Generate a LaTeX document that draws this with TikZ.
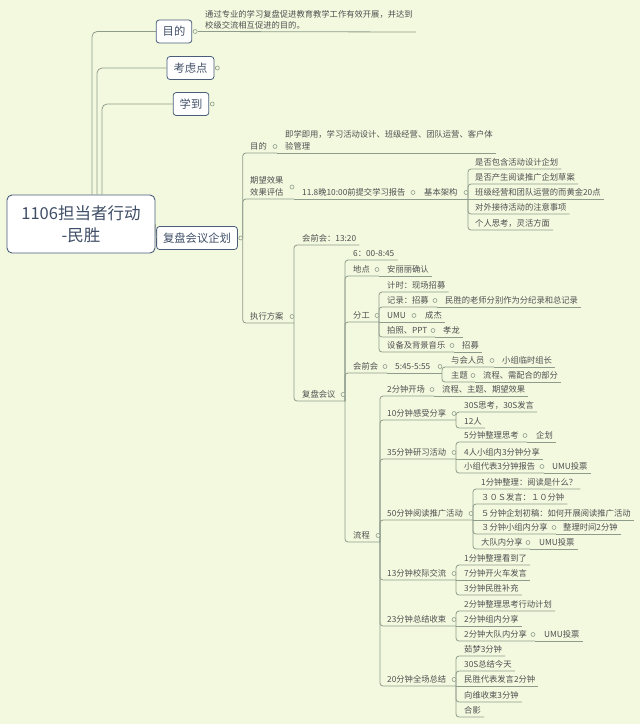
\documentclass[tikz,border=0pt]{standalone}
\usepackage{fontspec}
\setmainfont{Noto Sans CJK SC}
\usetikzlibrary{calc}
\definecolor{bg}{HTML}{F2F9DF}
\definecolor{lnc}{HTML}{8F9C8C}
\definecolor{txt}{HTML}{505050}
\definecolor{mtxt}{HTML}{3F4E66}
\definecolor{boxc}{HTML}{4A5D7A}
\definecolor{circc}{HTML}{8F9C8C}
\tikzset{
  ln/.style={draw=lnc, line width=0.8pt, rounded corners=3pt},
  tp/.style={font=\fontsize{8.3}{12}\selectfont, text=txt, inner xsep=3pt, inner ysep=2pt, text depth=1.5pt, anchor=south west, xshift=-3pt},
  tpm/.style={font=\fontsize{8.3}{12}\selectfont, text=txt, inner xsep=3pt, inner ysep=2.5pt, anchor=south west, xshift=-3pt, align=left},
  cl/.style={draw=circc, fill=bg, line width=0.6pt},
  mbox/.style={draw=boxc, fill=white, rounded corners=3pt, line width=0.8pt, font=\fontsize{11.3}{13}\selectfont, text=mtxt, inner xsep=6.5pt, inner ysep=0pt, minimum height=23pt},
  rootbox/.style={draw=boxc, fill=white, rounded corners=5pt, line width=0.9pt, font=\fontsize{16.5}{22}\selectfont, text=mtxt, align=center, minimum width=148pt, minimum height=58pt},
}
\newcommand\T[4]{\node[tp] (#1) at (#2,#3) {#4};}
\newcommand\C[1]{\draw[cl] ($(#1)+(-2,-6.5)$) circle (2pt);}
\begin{document}
\begin{tikzpicture}[x=1pt,y=-1pt]
\path[use as bounding box, fill=bg] (0,0) rectangle (640,724);
% root and main topics
\node[rootbox] (root) at (81,224) {1106担当者行动\\-民胜};
\node[mbox] (m1) at (174,31.5) {目的};
\node[mbox] (m2) at (190.5,68) {考虑点};
\node[mbox] (m3) at (191,104) {学到};
\node[mbox] (m4) at (197,238) {复盘会议企划};
\draw[ln, rounded corners=5pt] ([xshift=11pt]root.north) |- (m1.west);
\draw[ln, rounded corners=5pt] ([xshift=16pt]root.north) |- (m2.west);
\draw[ln, rounded corners=5pt] ([xshift=21pt]root.north) |- (m3.west);
\draw[ln] (root.east) -- (m4.west);
% 目的 child
\coordinate (m1j) at ([xshift=6pt]m1.east);
\node[tpm, font=\fontsize{8.3}{11}\selectfont] (t0) at (205,32) {通过专业的学习复盘促进教育教学工作有效开展，并达到\\校级交流相互促进的目的。};
\draw[ln] (m1j) -- (t0.south east);
% 复盘会议企划
\coordinate (j0) at ([xshift=5pt]m4.east);
\T{a1}{250}{153}{目的}
\coordinate (a1j) at (277,153);
\node[tpm] (a1c) at (285,153) {即学即用，学习活动设计、班级经营、团队运营、客户体\\验管理};
\draw[ln] (j0) |- (a1j);
\draw[ln] (a1j) -- (a1c.south east);
\node[tpm] (a2) at (250,199) {期望效果\\效果评估};
\coordinate (a2j) at (294,199);
\T{a2c}{302}{199}{11.8晚10:00前提交学习报告}
\coordinate (a2cj) at (415,199);
\T{a2d}{424}{199}{基本架构}
\coordinate (a2dj) at (468,199);
\draw[ln] (j0) |- (a2j);
\draw[ln] (a2j) -- (a2cj);
\draw[ln] (a2cj) -- (a2dj);
\T{e1}{475}{169}{是否包含活动设计企划}
\T{e2}{475}{184}{是否产生阅读推广企划草案}
\T{e3}{475}{199}{班级经营和团队运营的而黄金20点}
\T{e4}{475}{214}{对外接待活动的注意事项}
\T{e5}{475}{230}{个人思考，灵活方面}
\draw[ln] (a2dj) |- (e1.south east);
\draw[ln] (a2dj) |- (e2.south east);
\draw[ln] (a2dj) -- (e3.south east);
\draw[ln] (a2dj) |- (e4.south east);
\draw[ln] (a2dj) |- (e5.south east);
% 执行方案
\T{a3}{250}{323}{执行方案}
\coordinate (a3j) at (294,323);
\draw[ln] (j0) |- (a3j);
\T{b1}{302}{245}{会前会：13:20}
\draw[ln] (a3j) |- (b1.south east);
\T{b2}{302}{401}{复盘会议}
\coordinate (b2j) at (345,401);
\draw[ln] (a3j) |- (b2j);
% 复盘会议 children
\T{c1}{353}{260}{6：00-8:45}
\draw[ln] (b2j) |- (c1.south east);
\T{c2}{353}{276}{地点}
\coordinate (c2j) at (379,276);
\T{c2c}{387}{276}{安丽丽确认}
\draw[ln] (b2j) |- (c2j);
\draw[ln] (c2j) -- (c2c.south east);
\T{c3}{353}{322}{分工}
\coordinate (c3j) at (379,322);
\draw[ln] (b2j) |- (c3j);
\T{f1}{387}{292}{计时：现场招募}
\draw[ln] (c3j) |- (f1.south east);
\T{f2}{387}{307}{记录：招募}
\coordinate (f2j) at (437,307);
\T{f2c}{445}{307}{民胜的老师分别作为分纪录和总记录}
\draw[ln] (c3j) |- (f2j);
\draw[ln] (f2j) -- (f2c.south east);
\T{f3}{387}{322}{UMU}
\coordinate (f3j) at (416,322);
\T{f3c}{425}{322}{成杰}
\draw[ln] (c3j) -- (f3j);
\draw[ln] (f3j) -- (f3c.south east);
\T{f4}{387}{337}{拍照、PPT}
\coordinate (f4j) at (435,337);
\T{f4c}{443}{337}{孝龙}
\draw[ln] (c3j) |- (f4j);
\draw[ln] (f4j) -- (f4c.south east);
\T{f5}{387}{352}{设备及背景音乐}
\coordinate (f5j) at (454,352);
\T{f5c}{462}{352}{招募}
\draw[ln] (c3j) |- (f5j);
\draw[ln] (f5j) -- (f5c.south east);
\T{c4}{353}{373}{会前会}
\coordinate (c4j) at (387,373);
\T{c4c}{395}{373}{5:45-5:55}
\coordinate (c4cj) at (442,373);
\draw[ln] (b2j) |- (c4j);
\draw[ln] (c4j) -- (c4cj);
\T{g1}{451}{367}{与会人员}
\coordinate (g1j) at (494,367);
\T{g1c}{502}{367}{小组临时组长}
\draw[ln] (c4cj) |- (g1j);
\draw[ln] (g1j) -- (g1c.south east);
\T{g2}{451}{382}{主题}
\coordinate (g2j) at (475,382);
\T{g2c}{483}{382}{流程、需配合的部分}
\draw[ln] (c4cj) |- (g2j);
\draw[ln] (g2j) -- (g2c.south east);
\T{c5}{353}{542}{流程}
\coordinate (c5j) at (380,542);
\draw[ln] (b2j) |- (c5j);
% 流程 children
\T{d1}{387}{396}{2分钟开场}
\coordinate (d1j) at (434,396);
\T{d1c}{442}{396}{流程、主题、期望效果}
\draw[ln] (c5j) |- (d1j);
\draw[ln] (d1j) -- (d1c.south east);
\T{d2}{387}{420}{10分钟感受分享}
\coordinate (d2j) at (456,420);
\draw[ln] (c5j) |- (d2j);
\T{h1}{464}{412}{30S思考，30S发言}
\T{h2}{464}{428}{12人}
\draw[ln] (d2j) |- (h1.south east);
\draw[ln] (d2j) |- (h2.south east);
\T{d3}{387}{459}{35分钟研习活动}
\coordinate (d3j) at (456,459);
\draw[ln] (c5j) |- (d3j);
\T{i1}{464}{442}{5分钟整理思考}
\coordinate (i1j) at (527,442);
\T{i1c}{536}{442}{企划}
\draw[ln] (d3j) |- (i1j);
\draw[ln] (i1j) -- (i1c.south east);
\T{i2}{464}{459}{4人小组内3分钟分享}
\draw[ln] (d3j) -- (i2.south east);
\T{i3}{464}{473}{小组代表3分钟报告}
\coordinate (i3j) at (544,473);
\T{i3c}{552}{473}{UMU投票}
\draw[ln] (d3j) |- (i3j);
\draw[ln] (i3j) -- (i3c.south east);
\T{d4}{387}{520}{50分钟阅读推广活动}
\coordinate (d4j) at (473,520);
\draw[ln] (c5j) |- (d4j);
\T{k1}{481}{489}{1分钟整理：阅读是什么？}
\T{k2}{481}{504}{３０Ｓ发言：１０分钟}
\T{k3}{481}{520}{５分钟企划初稿：如何开展阅读推广活动}
\T{k4}{481}{534}{３分钟小组内分享}
\coordinate (k4j) at (556,534);
\T{k4c}{563}{534}{整理时间2分钟}
\T{k5}{481}{549}{大队内分享}
\coordinate (k5j) at (530,549);
\T{k5c}{539}{549}{UMU投票}
\draw[ln] (d4j) |- (k1.south east);
\draw[ln] (d4j) |- (k2.south east);
\draw[ln] (d4j) -- (k3.south east);
\draw[ln] (d4j) |- (k4j);
\draw[ln] (k4j) -- (k4c.south east);
\draw[ln] (d4j) |- (k5j);
\draw[ln] (k5j) -- (k5c.south east);
\T{d5}{387}{580}{13分钟校际交流}
\coordinate (d5j) at (456,580);
\draw[ln] (c5j) |- (d5j);
\T{l1}{464}{565}{1分钟整理看到了}
\T{l2}{464}{580}{7分钟开火车发言}
\T{l3}{464}{595}{3分钟民胜补充}
\draw[ln] (d5j) |- (l1.south east);
\draw[ln] (d5j) -- (l2.south east);
\draw[ln] (d5j) |- (l3.south east);
\T{d6}{387}{626}{23分钟总结收束}
\coordinate (d6j) at (456,626);
\draw[ln] (c5j) |- (d6j);
\T{n1}{464}{611}{2分钟整理思考行动计划}
\T{n2}{464}{626}{2分钟组内分享}
\T{n3}{464}{641}{2分钟大队内分享}
\coordinate (n3j) at (535,641);
\T{n3c}{544}{641}{UMU投票}
\draw[ln] (d6j) |- (n1.south east);
\draw[ln] (d6j) -- (n2.south east);
\draw[ln] (d6j) |- (n3j);
\draw[ln] (n3j) -- (n3c.south east);
\T{d7}{387}{686}{20分钟全场总结}
\coordinate (d7j) at (456,686);
\draw[ln] (c5j) |- (d7j);
\T{o1}{464}{656}{茹梦3分钟}
\T{o2}{464}{671}{30S总结今天}
\T{o3}{464}{686}{民胜代表发言2分钟}
\T{o4}{464}{702}{向维收束3分钟}
\T{o5}{464}{717}{合影}
\draw[ln] (d7j) |- (o1.south east);
\draw[ln] (d7j) |- (o2.south east);
\draw[ln] (d7j) -- (o3.south east);
\draw[ln] (d7j) |- (o4.south east);
\draw[ln] (d7j) |- (o5.south east);
% collapse circles
\draw[cl] ([xshift=3pt]m1.east) circle (2pt);
\draw[cl] ([xshift=3pt]m2.east) circle (2pt);
\draw[cl] ([xshift=3pt]m3.east) circle (2pt);
\draw[cl] ([xshift=3pt]m4.east) circle (2pt);
\draw[cl] (292,187) circle (2pt);
\C{a1j}\C{a2cj}\C{a2dj}\C{a3j}\C{b2j}\C{c2j}\C{c3j}\C{f2j}\C{f3j}\C{f4j}\C{f5j}
\C{c4j}\C{c4cj}\C{g1j}\C{g2j}\C{c5j}\C{d1j}\C{d2j}\C{d3j}\C{i1j}\C{i3j}
\C{d4j}\C{k4j}\C{k5j}\C{d5j}\C{d6j}\C{n3j}\C{d7j}
\end{tikzpicture}
\end{document}
